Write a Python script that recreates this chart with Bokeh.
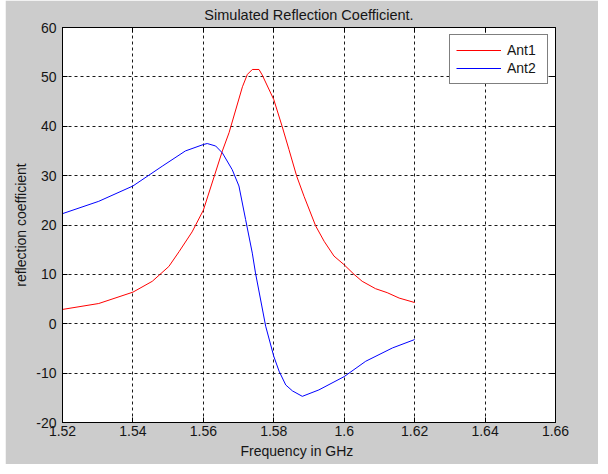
from bokeh.plotting import figure
from bokeh.models import FixedTicker, LinearAxis, Range1d, Legend, LegendItem, Title, Spacer
from bokeh.layouts import row
from bokeh.embed import file_html
from bokeh.resources import INLINE

# ---- data ----
freq_ant1 = [1.520, 1.5303, 1.540, 1.5455, 1.5502, 1.5531, 1.5568, 1.560, 1.5654, 1.5673,
             1.5711, 1.5725, 1.5739, 1.5758, 1.5767, 1.580, 1.5824, 1.5843, 1.5865, 1.5886,
             1.5919, 1.5943, 1.5971, 1.5999, 1.6028, 1.6051, 1.6089, 1.6122, 1.6156, 1.620]
refl_ant1 = [2.9, 4.1, 6.4, 8.6, 11.6, 14.6, 18.6, 23.0, 35.0, 38.7,
             48.0, 50.5, 51.5, 51.5, 50.4, 45.4, 39.9, 35.3, 29.9, 25.8,
             19.8, 16.7, 13.7, 12.0, 10.0, 8.6, 7.1, 6.3, 5.2, 4.3]

freq_ant2 = [1.520, 1.5303, 1.540, 1.5483, 1.5549, 1.560, 1.5611, 1.5635, 1.5654, 1.5682,
             1.5701, 1.572, 1.5739, 1.5748, 1.5777, 1.580, 1.5815, 1.5834, 1.5853, 1.5881,
             1.5928, 1.600, 1.6061, 1.6137, 1.620]
refl_ant2 = [22.3, 24.8, 27.9, 31.9, 35.0, 36.3, 36.5, 36.0, 34.6, 31.2,
             27.9, 21.1, 14.3, 10.3, -0.5, -6.6, -9.6, -12.4, -13.6, -14.7,
             -13.4, -10.7, -7.6, -4.9, -3.2]

x_ticks = [1.52, 1.54, 1.56, 1.58, 1.60, 1.62, 1.64, 1.66]
x_tick_labels = ["1.52", "1.54", "1.56", "1.58", "1.6", "1.62", "1.64", "1.66"]
y_ticks = [-20, -10, 0, 10, 20, 30, 40, 50, 60]
y_tick_labels = ["-20", "-10", "0", "10", "20", "30", "40", "50", "60"]

series_names = ["Ant1", "Ant2"]
series_colors = ["#ff0000", "#0000ff"]

FONT = "Liberation Sans"
TXT = "#151515"

p = figure(width=593, height=464, output_backend="svg", toolbar_location=None,
           x_range=Range1d(1.52, 1.66), y_range=Range1d(-20, 60),
           y_axis_label="reflection coefficient",
           title="Simulated Reflection Coefficient.",
           min_border_left=57, min_border_right=43, min_border_top=27, min_border_bottom=42)

p.border_fill_color = "#cccccc"
p.background_fill_color = "white"
p.outline_line_color = "black"
p.outline_line_width = 1

p.title.align = "center"
p.title.text_font = FONT
p.title.text_font_size = "14.5px"
p.title.text_font_style = "normal"
p.title.text_color = TXT
p.title.standoff = 8.5

def style_axis(ax, show_labels=True):
    ax.major_tick_in = 5
    ax.major_tick_out = 0
    ax.minor_tick_line_color = None
    ax.axis_line_color = "black"
    ax.major_tick_line_color = "black"
    ax.major_label_text_font = FONT
    if show_labels:
        ax.major_label_text_font_size = "14px"
        ax.major_label_text_color = TXT
    else:
        ax.major_label_text_font_size = "0px"
        ax.major_label_text_color = None
        ax.major_label_standoff = 0
    ax.axis_label_text_font = FONT
    ax.axis_label_text_font_size = "14px"
    ax.axis_label_text_font_style = "normal"
    ax.axis_label_text_color = TXT

xt = FixedTicker(ticks=x_ticks)
yt = FixedTicker(ticks=y_ticks)

xa = p.xaxis[0]
xa.ticker = xt
xa.major_label_overrides = dict(zip(x_ticks, x_tick_labels))
style_axis(xa)
xa.major_label_standoff = 3

ya = p.yaxis[0]
ya.ticker = yt
ya.major_label_overrides = dict(zip(y_ticks, y_tick_labels))
style_axis(ya)
ya.major_label_standoff = 6
ya.axis_label_standoff = 4

top_ax = LinearAxis(ticker=FixedTicker(ticks=x_ticks))
style_axis(top_ax, show_labels=False)
p.add_layout(top_ax, "above")
right_ax = LinearAxis(ticker=FixedTicker(ticks=y_ticks))
style_axis(right_ax, show_labels=False)
p.add_layout(right_ax, "right")

xlabel = Title(text="Frequency in GHz", align="left", offset=178, vertical_align="top",
               text_font=FONT, text_font_size="14px", text_font_style="normal",
               text_color=TXT, standoff=8)
p.add_layout(xlabel, "below")

p.xgrid.ticker = xt
p.ygrid.ticker = yt
for g in (p.xgrid[0], p.ygrid[0]):
    g.grid_line_color = "black"
    g.grid_line_dash = "3 3"
    g.grid_line_alpha = 0.9
    g.grid_line_width = 1

r1 = p.line(freq_ant1, refl_ant1, line_color=series_colors[0], line_width=1)
r2 = p.line(freq_ant2, refl_ant2, line_color=series_colors[1], line_width=1)

legend = Legend(items=[LegendItem(label=series_names[0], renderers=[r1]),
                       LegendItem(label=series_names[1], renderers=[r2])],
                location="top_right")
legend.margin = 7
legend.padding = 6
legend.spacing = 0
legend.glyph_width = 45
legend.glyph_height = 18
legend.label_height = 18
legend.label_width = 34
legend.label_standoff = 6
legend.label_text_font = FONT
legend.label_text_font_size = "14px"
legend.label_text_color = TXT
legend.border_line_color = "black"
legend.border_line_width = 1
legend.background_fill_color = "white"
legend.background_fill_alpha = 1
p.add_layout(legend, "center")

layout = row(Spacer(width=5, height=464), p)
open("out.html", "w").write(file_html(layout, INLINE))
